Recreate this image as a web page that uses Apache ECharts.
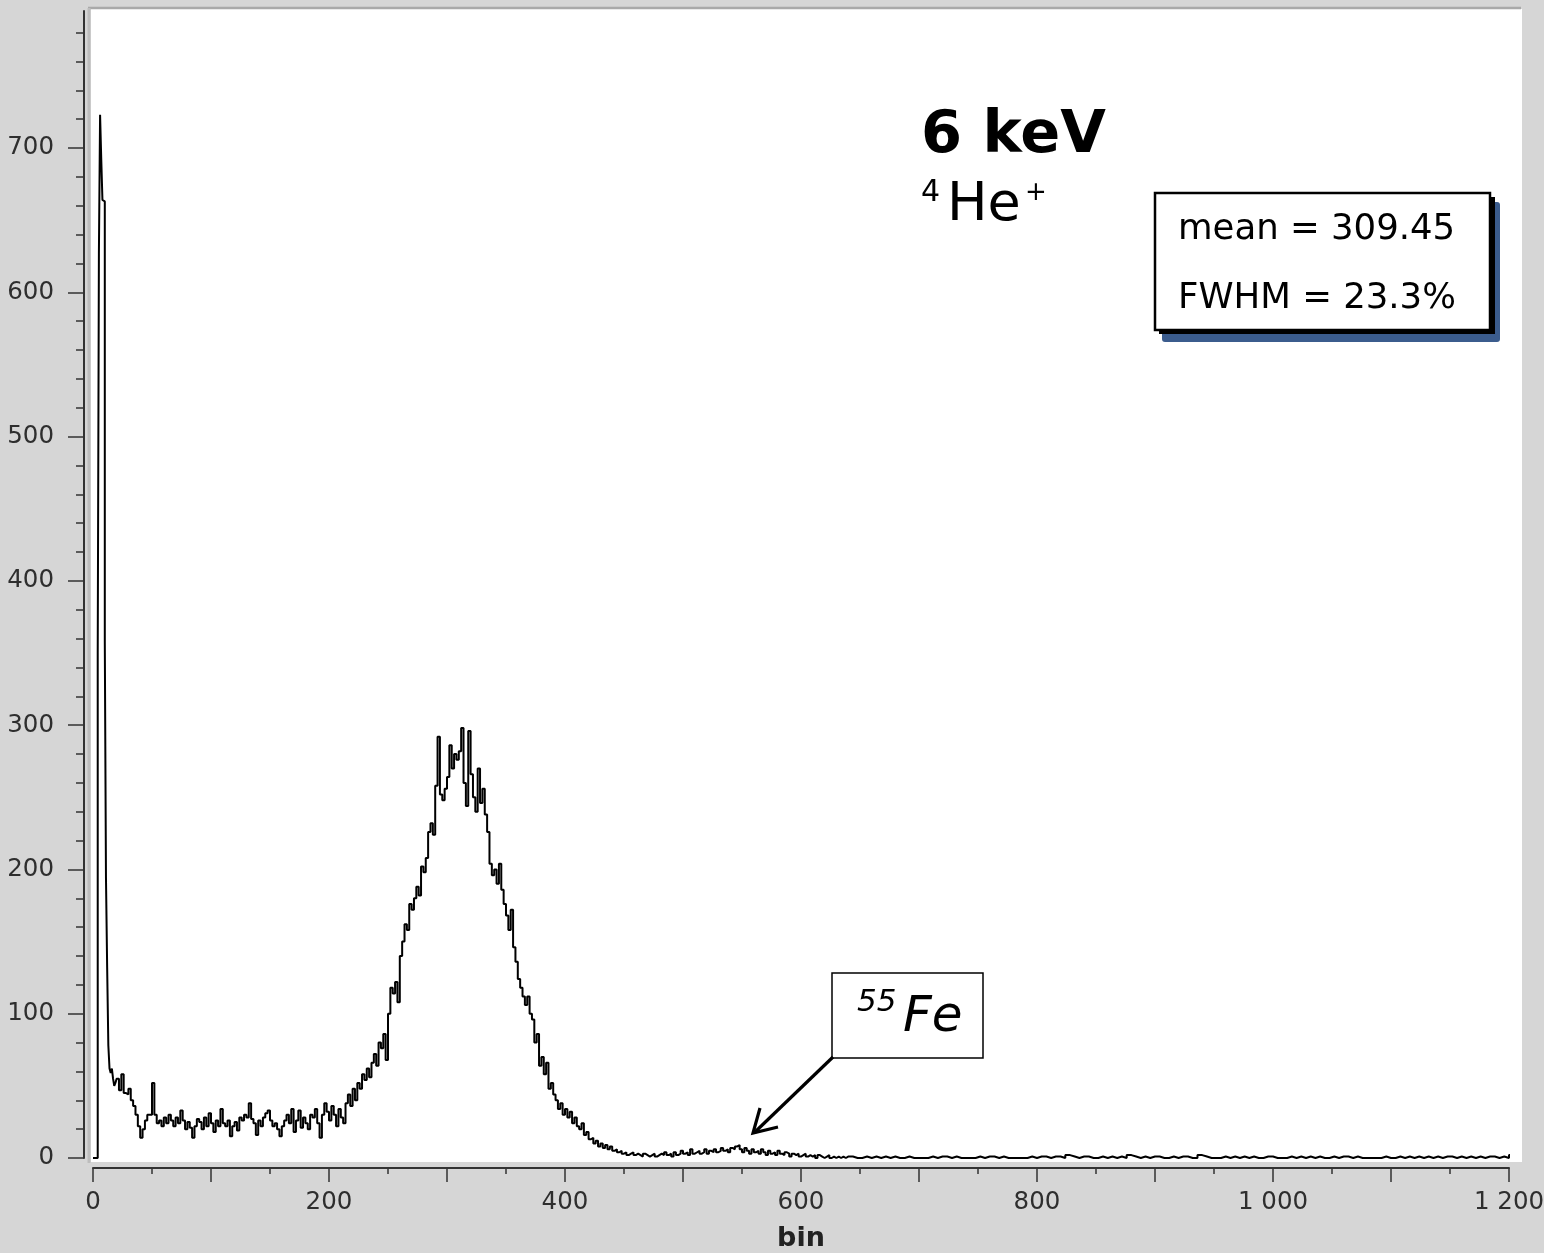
<!DOCTYPE html>
<html><head><meta charset="utf-8">
<script src="https://cdn.jsdelivr.net/npm/echarts@6/dist/echarts.min.js"></script>
<style>html,body{margin:0;padding:0;background:#d6d6d6;overflow:hidden}#c{width:1544px;height:1253px}</style>
</head><body><div id="c"></div><script>
// bins 0..19, width 1
const peakCounts = [0,0,0,0,350,627,723,692,664,663,358,194,132,78,62,59,62,55,50,52];
// bins 20..638, width 2
const counts = [
 55,47,58,45,44,48,40,36,30,22,14,20,26,30,30,
 52,30,24,26,22,28,24,30,26,22,28,24,33,26,20,25,21,14,22,27,25,20,28,22,31,
 24,18,26,22,34,24,22,26,15,22,25,19,28,26,30,28,38,27,24,16,26,22,28,31,33,
 26,22,24,20,15,22,26,30,24,34,18,26,33,21,28,24,20,30,28,34,24,14,30,38,32,
 26,36,30,22,34,28,24,38,44,36,48,40,52,48,58,54,62,56,66,72,64,80,76,86,68,
 100,118,114,122,108,140,150,162,158,176,172,180,188,182,202,198,208,226,232,224,258,292,252,248,256,
 264,286,270,280,276,282,298,260,244,296,266,250,240,270,246,256,238,226,204,196,200,190,204,186,176,
 168,158,172,146,136,124,118,112,106,112,100,96,80,86,64,70,58,66,48,52,44,40,34,38,30,
 34,28,32,24,28,22,20,24,16,18,13,14,10,12,8,10,7,9,6,8,5,6,4,5,3,
 4,2,3,4,2,3,2,1,3,2,1,2,3,1,2,3,2,4,2,3,1,4,2,3,5,
 3,4,2,6,3,4,5,3,4,6,3,5,4,6,4,5,7,5,6,4,7,6,8,9,6,
 4,7,5,3,6,4,5,3,6,4,2,5,3,4,2,5,3,2,4,3,1,3,2,3,1,
 2,3,1,2,1,2,0,2,1,0,1,2,0,1,0,1,0,1,0,1
];
// bins 640..1208, width 4
const tailCounts = [
 1,0,0,1,0,1,0,1,0,1,
 0,0,1,0,0,0,0,1,0,1,
 1,0,1,0,0,0,0,1,0,1,
 1,0,1,0,0,0,0,0,1,0,
 1,1,0,1,1,0,2,1,0,1,
 1,0,0,1,0,1,0,1,0,2,
 1,0,1,0,1,1,0,0,1,0,
 1,1,0,0,2,1,0,0,0,1,
 0,1,0,1,0,1,0,0,1,1,
 0,0,0,1,0,1,0,1,0,1,
 0,0,1,0,1,1,0,1,0,0,
 0,0,0,1,0,0,1,0,1,0,
 1,0,1,0,1,0,1,1,0,1,
 0,1,0,1,0,1,1,0,1,0,
 2,1,0
];
const yTicks = [0,100,200,300,400,500,600,700];
const xTickStep = 100, xLabelStep = 200, yTickStep = 100;

const pts = [];
peakCounts.forEach((v,i)=>pts.push([i, v]));
counts.forEach((v,i)=>pts.push([20 + 2*i, v]));
tailCounts.forEach((v,i)=>pts.push([640 + 4*i, v]));
pts.push([640 + 4*tailCounts.length, 0]);

const fmtThousands = v => String(v).replace(/\B(?=(\d{3})+(?!\d))/g, ' ');
const FONT = '"DejaVu Sans", sans-serif';
const labelColor = '#2e2e2e';
const axisColor = '#333';

const chart = echarts.init(document.getElementById('c'), null, {renderer:'canvas'});
chart.setOption({
  animation: false,
  backgroundColor: '#d6d6d6',
  grid: {left: 93, right: 35, top: 11, bottom: 95, containLabel: false, outerBoundsMode: 'none'},
  xAxis: {
    type: 'value', min: 0, max: 1200, interval: xTickStep, offset: 10,
    axisLine: {show: true, onZero: false, lineStyle: {color: axisColor, width: 2}},
    axisTick: {show: true, length: 14, lineStyle: {color: axisColor, width: 1.5}},
    minorTick: {show: true, splitNumber: 2, length: 6, lineStyle: {color: axisColor, width: 1.5}},
    splitLine: {show: false}, minorSplitLine: {show: false},
    axisLabel: {margin: 22, fontSize: 24.5, fontFamily: FONT, color: labelColor, hideOverlap: false,
      formatter: v => (v % xLabelStep === 0 ? fmtThousands(v) : '')},
    name: 'bin', nameLocation: 'middle', nameGap: 57,
    nameTextStyle: {fontWeight: 'bold', fontSize: 27, fontFamily: FONT, color: '#222'}
  },
  yAxis: {
    type: 'value', min: 0, max: 795, interval: yTickStep, offset: 9,
    axisLine: {show: true, onZero: false, lineStyle: {color: axisColor, width: 2}},
    axisTick: {show: true, length: 16, customValues: yTicks, lineStyle: {color: axisColor, width: 1.5}},
    minorTick: {show: true, splitNumber: 5, length: 8, lineStyle: {color: axisColor, width: 1.5}},
    splitLine: {show: false}, minorSplitLine: {show: false},
    axisLabel: {margin: 30, fontSize: 24.5, fontFamily: FONT, color: labelColor, customValues: yTicks,
      formatter: v => String(v)}
  },
  series: [{
    type: 'line', step: 'end', data: pts, showSymbol: false, symbol: 'none',
    clip: false, z: 5,
    lineStyle: {color: '#000', width: 2}
  }],
  graphic: [
    {type: 'rect', z: -1, shape: {x: 91, y: 9, width: 1431, height: 1153}, style: {fill: '#ffffff'}},
    {type: 'line', z: -1, shape: {x1: 88, y1: 8, x2: 1521, y2: 8}, style: {stroke: '#a9a9a9', lineWidth: 2.5}},
    {type: 'line', z: -1, shape: {x1: 89, y1: 8, x2: 89, y2: 1163}, style: {stroke: '#bdbdbd', lineWidth: 3}},

    {type: 'text', z: 50, x: 921, y: 137, style: {text: '6 keV', font: 'bold 59px "DejaVu Sans"', fill: '#000', textVerticalAlign: 'middle'}},
    {type: 'text', z: 50, x: 921, y: 193, style: {text: '4', font: '30px "DejaVu Sans"', fill: '#000', textVerticalAlign: 'middle'}},
    {type: 'text', z: 50, x: 947, y: 206, style: {text: 'He', font: '54px "DejaVu Sans"', fill: '#000', textVerticalAlign: 'middle'}},
    {type: 'text', z: 50, x: 1036, y: 193, style: {text: '+', font: '26px "DejaVu Sans"', fill: '#000', textAlign: 'center', textVerticalAlign: 'middle'}},

    {type: 'rect', z: 50, shape: {x: 1162, y: 202, width: 338, height: 140, r: 3}, style: {fill: '#3b5c8d'}},
    {type: 'rect', z: 51, shape: {x: 1159, y: 197, width: 336, height: 137}, style: {fill: '#000'}},
    {type: 'rect', z: 52, shape: {x: 1155, y: 193, width: 335, height: 137}, style: {fill: '#fff', stroke: '#000', lineWidth: 2.5}},
    {type: 'text', z: 53, x: 1178, y: 230, style: {text: 'mean = 309.45', font: '35.5px "DejaVu Sans"', fill: '#000', textVerticalAlign: 'middle'}},
    {type: 'text', z: 53, x: 1178, y: 299, style: {text: 'FWHM = 23.3%', font: '35.5px "DejaVu Sans"', fill: '#000', textVerticalAlign: 'middle'}},

    {type: 'rect', z: 50, shape: {x: 832, y: 973, width: 151, height: 85}, style: {fill: '#fff', stroke: '#000', lineWidth: 1.5}},
    {type: 'text', z: 51, x: 857, y: 1003, style: {text: '55', font: 'italic 31px "DejaVu Sans"', fill: '#000', textVerticalAlign: 'middle'}},
    {type: 'text', z: 51, x: 903, y: 1018, style: {text: 'Fe', font: 'italic 50px "DejaVu Sans"', fill: '#000', textVerticalAlign: 'middle'}},
    {type: 'polyline', z: 51, shape: {points: [[833, 1057], [755, 1132]]}, style: {stroke: '#000', lineWidth: 3.2, fill: null}},
    {type: 'polyline', z: 51, shape: {points: [[760, 1108], [753, 1133], [778, 1127]]}, style: {stroke: '#000', lineWidth: 3.2, fill: null, lineJoin: 'miter'}}
  ]
});
</script></body></html>
